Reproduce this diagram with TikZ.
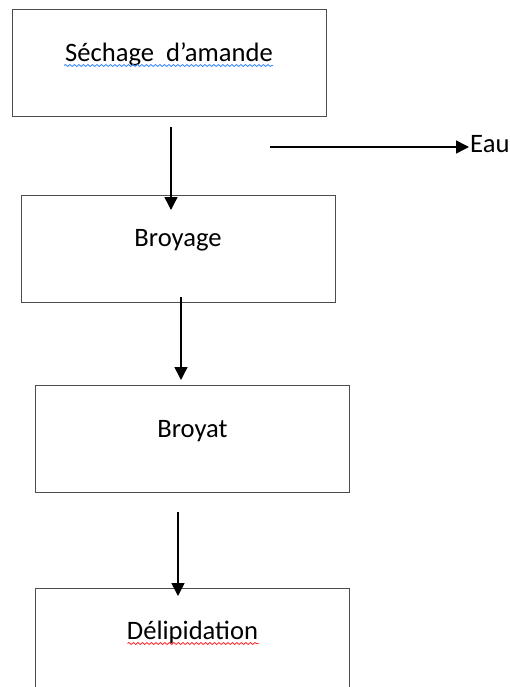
\documentclass[tikz,border=0pt]{standalone}
\usepackage{fontspec}
\setmainfont{Carlito}
\usetikzlibrary{arrows.meta,decorations.pathmorphing}

\begin{document}
\begin{tikzpicture}[x=1pt,y=-1pt,
  stepbox/.style={draw=black!70, line width=1pt, inner sep=0pt,
    minimum width=314pt, text height=51.5pt, text depth=55.5pt,
    font=\fontsize{26.6}{30}\selectfont},
  arr/.style={-{Triangle[length=13pt,width=13pt]}, line width=1.5pt},
  squiggle/.style={line width=0.8pt, decorate,
    decoration={snake, segment length=4.5pt, amplitude=1pt}}]
\useasboundingbox (0,0) rectangle (510,687);

\node[stepbox] (sechage) at (169,63.5) {S\'echage\ \ d’amande};
\node[stepbox] (broyage) at (178,248.5) {Broyage};
\node[stepbox] (broyat) at (192.5,439) {Broyat};
\node[stepbox] (delip) at (192.5,641.5) {D\'elipidation};

\coordinate (a1s) at (171,127);
\coordinate (a1e) at (171,210);
\coordinate (a2s) at (181,297);
\coordinate (a2e) at (181,380);
\coordinate (a3s) at (178,512);
\coordinate (a3e) at (178,596);
\coordinate (w1) at (270,147);

\node[anchor=base west, inner sep=1pt, font=\fontsize{26.6}{30}\selectfont] (eau) at (469,153) {Eau};

\draw[arr] (a1s) -- (a1e);
\draw[arr] (a2s) -- (a2e);
\draw[arr] (a3s) -- (a3e);
\draw[arr] (w1) -- (w1 -| eau.west);

\draw[squiggle, color=blue!60!cyan!80!white] ([xshift=-105,yshift=-4]sechage.base) -- ([xshift=104,yshift=-4]sechage.base);
\draw[squiggle, color=red!85] ([xshift=-65,yshift=-4]delip.base) -- ([xshift=66,yshift=-4]delip.base);
\end{tikzpicture}
\end{document}
